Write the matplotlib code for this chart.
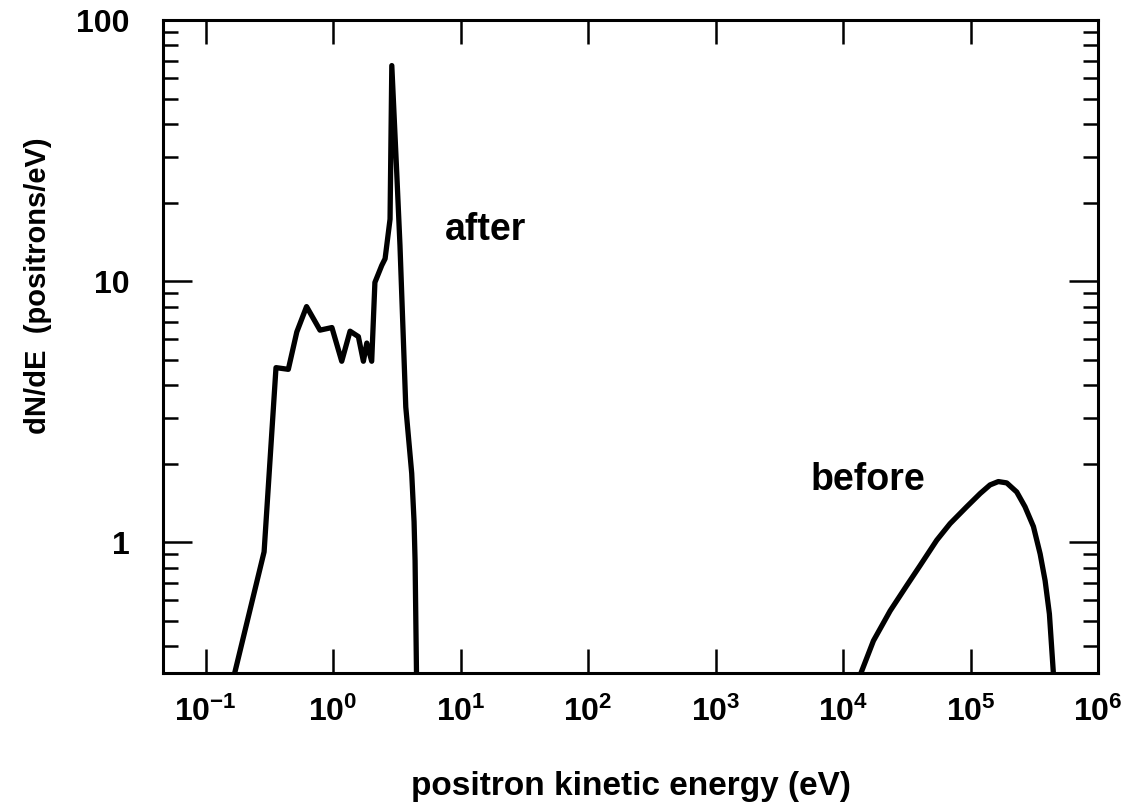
#%% imports
import matplotlib
matplotlib.use("Agg")
import matplotlib.pyplot as plt
from matplotlib.ticker import FixedLocator, NullFormatter, LogFormatterSciNotation

plt.rcParams["font.family"] = ["Liberation Sans", "DejaVu Sans"]
plt.rcParams["font.weight"] = "bold"
plt.rcParams["axes.labelweight"] = "bold"
plt.rcParams["axes.unicode_minus"] = False
plt.rcParams["mathtext.fontset"] = "custom"
plt.rcParams["mathtext.rm"] = "Liberation Sans:bold"

#%% data
after_e = [0.165, 0.288, 0.357, 0.446, 0.52, 0.62, 0.79, 0.98, 1.17, 1.36, 1.58,
           1.73, 1.84, 2.01, 2.13, 2.41, 2.56, 2.80, 2.89, 3.16, 3.35, 3.56,
           3.72, 4.14, 4.32, 4.40, 4.52]
after_n = [0.30, 0.92, 4.67, 4.6, 6.4, 8.0, 6.5, 6.65, 4.94, 6.44, 6.14,
           4.94, 5.8, 4.94, 9.9, 11.5, 12.2, 17.3, 67.0, 26.0, 13.7, 6.0,
           3.3, 1.84, 1.2, 0.85, 0.30]

before_e = [13600, 17300, 23400, 31600, 40200, 54300, 69000, 93300, 119000, 142000,
            165000, 192000, 230000, 267000, 311000, 351000, 384000, 415000, 447000]
before_n = [0.31, 0.42, 0.547, 0.684, 0.816, 1.02, 1.18, 1.37, 1.54, 1.66,
            1.71, 1.69, 1.56, 1.37, 1.15, 0.904, 0.714, 0.532, 0.31]

x_ticks = [1e-1, 1e0, 1e1, 1e2, 1e3, 1e4, 1e5, 1e6]
y_ticks = [1, 10, 100]
y_tick_labels = ["1", "10", "100"]
y_minor = [0.4, 0.5, 0.6, 0.7, 0.8, 0.9] + [2, 3, 4, 5, 6, 7, 8, 9] + [20, 30, 40, 50, 60, 70, 80, 90]

#%% plot
fig = plt.figure(figsize=(11.28, 8.07), dpi=100)
ax = fig.add_axes([0.1445, 0.166, 0.829, 0.809])

ax.plot(after_e, after_n, color="black", lw=3.8, solid_joinstyle="round")
ax.plot(before_e, before_n, color="black", lw=3.8, solid_joinstyle="round")

ax.set_xscale("log")
ax.set_yscale("log")
ax.set_xlim(0.0464, 1e6)
ax.set_ylim(0.316, 100)

ax.xaxis.set_major_locator(FixedLocator(x_ticks))
ax.xaxis.set_major_formatter(LogFormatterSciNotation())
ax.xaxis.set_minor_locator(FixedLocator([]))
ax.yaxis.set_major_locator(FixedLocator(y_ticks))
ax.set_yticklabels(y_tick_labels)
ax.yaxis.set_minor_locator(FixedLocator(y_minor))
ax.yaxis.set_minor_formatter(NullFormatter())

ax.tick_params(which="both", direction="in", top=True, right=True, width=1.8, colors="black")
ax.tick_params(axis="x", which="major", length=17, labelsize=23, pad=17)
ax.tick_params(axis="y", which="major", length=21, labelsize=23, pad=24)
ax.tick_params(axis="y", which="minor", length=11)
for s in ax.spines.values():
    s.set_linewidth(2.2)

ax.text(7.56, 15.7, "after", fontsize=27, va="center", ha="left")
ax.text(5510, 1.73, "before", fontsize=27, va="center", ha="left")

ax.set_xlabel("positron kinetic energy (eV)", fontsize=24)
ax.xaxis.set_label_coords(0.5, -0.150)
ax.set_ylabel("dN/dE  (positrons/eV)", fontsize=21)
ax.yaxis.set_label_coords(-0.119, 0.594)

fig.savefig("out.png", dpi=100)
